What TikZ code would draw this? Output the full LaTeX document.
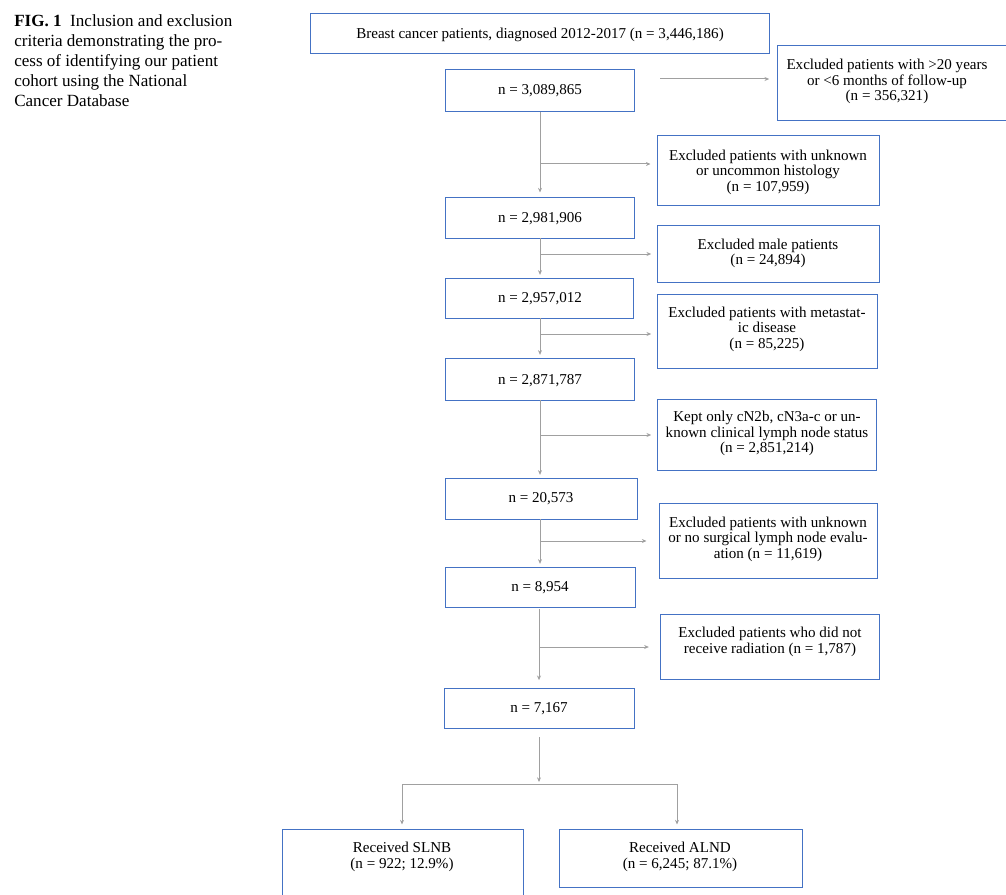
\documentclass[tikz,border=0pt]{standalone}
\usepackage{fontspec}
\setmainfont{Liberation Serif}
\usetikzlibrary{arrows.meta,fit,calc}
\definecolor{boxblue}{HTML}{4472C4}
\definecolor{linegray}{HTML}{A0A0A0}
\begin{document}
\begin{tikzpicture}[x=0.75pt,y=-0.75pt,
  box/.style={draw=boxblue, line width=0.75pt, inner sep=0pt},
  txt/.style={align=center, font=\fontsize{11.3}{11.6}\selectfont, inner sep=0pt, yshift=-1.5pt},
  conn/.style={draw=linegray, line width=0.75pt, -{Stealth[length=3.5pt,width=3pt]}},
  plain/.style={draw=linegray, line width=0.75pt}]
\useasboundingbox (0,0) rectangle (1006,895);

% caption
\node[anchor=north west, align=left, inner sep=0pt, font=\fontsize{12.8}{15}\selectfont] (cap) at (14,14)
 {\textbf{FIG. 1}\enspace Inclusion and exclusion\\criteria demonstrating the pro-\\cess of identifying our patient\\cohort using the National\\Cancer Database};

% boxes
\node[box, fit={(310,14) (769,54)}] (top) {};
\node[txt] (ttop) at (540,33) {Breast cancer patients, diagnosed 2012-2017 (n = 3,446,186)};

\node[box, fit={(445,70) (634,112)}] (a1) {};
\node[txt] (ta1) at (540,89) {n = 3,089,865};
\node[box, fit={(777,46) (1012,121)}] (e1) {};
\node[txt] (te1) at (887,79.5) {Excluded patients with >20 years\\or <6 months of follow-up\\(n = 356,321)};

\node[box, fit={(657,136) (879,205)}] (e2) {};
\node[txt] (te2) at (768,170) {Excluded patients with unknown\\or uncommon histology\\(n = 107,959)};

\node[box, fit={(445,197) (634,238)}] (a2) {};
\node[txt] (ta2) at (540,217) {n = 2,981,906};

\node[box, fit={(657,225) (879,282)}] (e3) {};
\node[txt] (te3) at (768,251.5) {Excluded male patients\\(n = 24,894)};

\node[box, fit={(445,278) (633,318)}] (a3) {};
\node[txt] (ta3) at (540,297) {n = 2,957,012};

\node[box, fit={(657,294) (877,368)}] (e4) {};
\node[txt] (te4) at (767,327) {Excluded patients with metastat-\\ic disease\\(n = 85,225)};

\node[box, fit={(445,358) (634,400)}] (a4) {};
\node[txt] (ta4) at (540,379) {n = 2,871,787};

\node[box, fit={(657,399) (876,470)}] (e5) {};
\node[txt] (te5) at (767,431.5) {Kept only cN2b, cN3a-c or un-\\known clinical lymph node status\\(n = 2,851,214)};

\node[box, fit={(445,478) (637,519)}] (a5) {};
\node[txt] (ta5) at (541,497) {n = 20,573};

\node[box, fit={(659,503) (877,578)}] (e6) {};
\node[txt] (te6) at (768,537) {Excluded patients with unknown\\or no surgical lymph node evalu-\\ation (n = 11,619)};

\node[box, fit={(445,567) (635,607)}] (a6) {};
\node[txt] (ta6) at (540,586) {n = 8,954};

\node[box, fit={(660,614) (879,679)}] (e7) {};
\node[txt] (te7) at (770,640) {Excluded patients who did not\\receive radiation (n = 1,787)};

\node[box, fit={(444,688) (634,728)}] (a7) {};
\node[txt] (ta7) at (539,707) {n = 7,167};

\node[box, fit={(282,829) (523,905)}] (slnb) {};
\node[txt] (tslnb) at (402,855) {Received SLNB\\(n = 922; 12.9\%)};

\node[box, fit={(559,829) (802,887)}] (alnd) {};
\node[txt] (talnd) at (680,855) {Received ALND\\(n = 6,245; 87.1\%)};

% connectors
\coordinate (s1) at (660,79);
\draw[conn, shorten >=5.5pt] (s1) -- (s1 -| e1.west);

\coordinate (v1) at (540,112);
\draw[conn, shorten >=3pt] (v1) -- (v1 |- a2.north);
\coordinate (b2) at (540,164);
\draw[conn, shorten >=4.5pt] (b2) -- (b2 -| e2.west);

\coordinate (v2) at (540,238);
\draw[conn, shorten >=2pt] (v2) -- (v2 |- a3.north);
\coordinate (b3) at (540,254);
\draw[conn, shorten >=4pt] (b3) -- (b3 -| e3.west);

\coordinate (v3) at (540,318);
\draw[conn, shorten >=2pt] (v3) -- (v3 |- a4.north);
\coordinate (b4) at (540,334);
\draw[conn, shorten >=4pt] (b4) -- (b4 -| e4.west);

\coordinate (v4) at (540,400);
\draw[conn, shorten >=2pt] (v4) -- (v4 |- a5.north);
\coordinate (b5) at (540,435);
\draw[conn, shorten >=4pt] (b5) -- (b5 -| e5.west);

\coordinate (v5) at (540,519);
\draw[conn, shorten >=2pt] (v5) -- (v5 |- a6.north);
\coordinate (b6) at (540,541);
\draw[conn, shorten >=9pt] (b6) -- (b6 -| e6.west);

\coordinate (v6) at (539,609);
\draw[conn, shorten >=5.5pt] (v6) -- (v6 |- a7.north);
\coordinate (b7) at (539,647);
\draw[conn, shorten >=8pt] (b7) -- (b7 -| e7.west);

\coordinate (v7) at (539,737);
\coordinate (split) at (539,784);
\coordinate (sl) at (402,784);
\coordinate (sr) at (677,784);
\draw[conn, shorten >=1.5pt] (v7) -- (split);
\draw[plain] (sl) -- (sr);
\draw[conn, shorten >=3pt] (sl) -- (sl |- slnb.north);
\draw[conn, shorten >=3pt] (sr) -- (sr |- alnd.north);
\end{tikzpicture}
\end{document}
